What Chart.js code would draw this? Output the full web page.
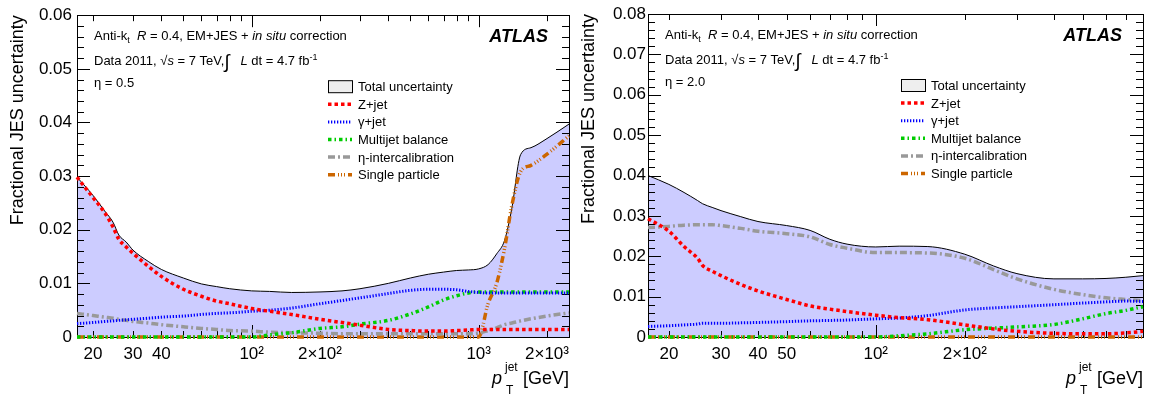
<!DOCTYPE html>
<html>
<head>
<meta charset="utf-8">
<script src="https://cdn.jsdelivr.net/npm/chart.js@4.4.0/dist/chart.umd.min.js"></script>
<style>
  body { margin: 0; background: #fff; }
  .panels { display: flex; width: 1162px; height: 396px; }
  canvas { display: block; }
</style>
</head>
<body>
<div class="panels">
  <canvas id="jes-eta05" width="580" height="396"></canvas>
  <canvas id="jes-eta20" width="582" height="396"></canvas>
</div>
<script>
/* ATLAS 2011 in situ JES uncertainty breakdown, two eta bins.
   Values. */

const FONT = '"Liberation Sans", Arial, Helvetica, sans-serif';

const legendNames = ["Total uncertainty", "Z+jet", "\u03b3+jet", "Multijet balance", "\u03b7-intercalibration", "Single particle"];

// ---- eta = 0.5 ----
const ptLeft = [17, 20, 22.5, 24.5, 26, 28, 30, 35, 40, 50, 60, 70, 80, 100, 120, 150, 200, 250, 300, 400, 500, 600, 700, 800, 900, 1000, 1100, 1200, 1300, 1400, 1530, 1700, 2000, 2500];
const totalLeft = [0.0298, 0.0264, 0.0235, 0.0214, 0.0190, 0.0177, 0.0162, 0.0141, 0.0126, 0.0110, 0.0099, 0.0094, 0.0090, 0.0086, 0.0085, 0.0083, 0.0084, 0.0086, 0.0090, 0.0100, 0.0110, 0.0117, 0.0121, 0.0124, 0.0125, 0.0127, 0.0135, 0.0155, 0.0180, 0.0240, 0.0340, 0.0353, 0.0370, 0.0397];
const zjetLeft = [0.0298, 0.0260, 0.0232, 0.0205, 0.0182, 0.0168, 0.0156, 0.0132, 0.0113, 0.0089, 0.0076, 0.0067, 0.0062, 0.0053, 0.0048, 0.0042, 0.0033, 0.0027, 0.0022, 0.0014, 0.0012, 0.0011, 0.0011, 0.0012, 0.0013, 0.0014, 0.0014, 0.0014, 0.0014, 0.0014, 0.0014, 0.0014, 0.0014, 0.0014];
const gjetLeft = [0.0025, 0.0027, 0.0029, 0.0030, 0.0031, 0.0032, 0.0033, 0.0035, 0.0037, 0.0039, 0.0042, 0.0044, 0.0045, 0.0048, 0.0050, 0.0054, 0.0062, 0.0068, 0.0073, 0.0081, 0.0087, 0.0089, 0.0089, 0.0088, 0.0085, 0.0083, 0.0082, 0.0082, 0.0082, 0.0082, 0.0082, 0.0082, 0.0082, 0.0082];
const multijetLeft = [0, 0, 0, 0, 0, 0, 0, 0, 0, 0, 0, 0, 0, 0, 0.0004, 0.0008, 0.0016, 0.0019, 0.0024, 0.0031, 0.0043, 0.0056, 0.0069, 0.0077, 0.0082, 0.0084, 0.0084, 0.0084, 0.0084, 0.0084, 0.0084, 0.0084, 0.0084, 0.0084];
const etaLeft = [0.0044, 0.0040, 0.0037, 0.0035, 0.0033, 0.0031, 0.0029, 0.0026, 0.0023, 0.0019, 0.0016, 0.0014, 0.0012, 0.0011, 0.0009, 0.0008, 0.0007, 0.0006, 0.0006, 0.0006, 0.0006, 0.0006, 0.0006, 0.0006, 0.0006, 0.0007, 0.0012, 0.0017, 0.0023, 0.0026, 0.0030, 0.0034, 0.0039, 0.0045];
const singleLeft = [0, 0, 0, 0, 0, 0, 0, 0, 0, 0, 0, 0, 0, 0, 0, 0, 0, 0, 0, 0, 0, 0, 0, 0, 0, 0, 0.0062, 0.0100, 0.0165, 0.0245, 0.0308, 0.0320, 0.0341, 0.0375];
const xTicksLeft = [20, 30, 40, 100, 200, 1000, 2000];
const xLabelsLeft = ["20", "30", "40", "10\u00b2", "2\u00d710\u00b2", "10\u00b3", "2\u00d710\u00b3"];

// ---- eta = 2.0 ----
const ptRight = [17, 20, 22.5, 25, 26, 28, 30, 35, 40, 50, 60, 70, 80, 100, 120, 150, 200, 250, 300, 400, 500, 600, 700, 800];
const totalRight = [0.0400, 0.0378, 0.0358, 0.0338, 0.0330, 0.0321, 0.0313, 0.0298, 0.0286, 0.0276, 0.0264, 0.0242, 0.0230, 0.0223, 0.0225, 0.0224, 0.0205, 0.0176, 0.0157, 0.0144, 0.0144, 0.0145, 0.0148, 0.0152];
const zjetRight = [0.0293, 0.0262, 0.0224, 0.0195, 0.0177, 0.0163, 0.0152, 0.0130, 0.0114, 0.0093, 0.0077, 0.0069, 0.0063, 0.0054, 0.0048, 0.0043, 0.0030, 0.0020, 0.0014, 0.0009, 0.0008, 0.0008, 0.0010, 0.0014];
const gjetRight = [0.0026, 0.0028, 0.0030, 0.0032, 0.0034, 0.0034, 0.0034, 0.0035, 0.0036, 0.0038, 0.0040, 0.0041, 0.0042, 0.0045, 0.0047, 0.0053, 0.0067, 0.0072, 0.0075, 0.0080, 0.0084, 0.0087, 0.0089, 0.0088];
const multijetRight = [0, 0, 0, 0, 0, 0, 0, 0, 0, 0, 0, 0, 0, 0, 0.0003, 0.0008, 0.0018, 0.0022, 0.0025, 0.0031, 0.0045, 0.0058, 0.0066, 0.0075];
const etaRight = [0.0271, 0.0274, 0.0277, 0.0278, 0.0278, 0.0278, 0.0276, 0.0269, 0.0262, 0.0256, 0.0248, 0.0229, 0.0220, 0.0209, 0.0209, 0.0208, 0.0195, 0.0167, 0.0144, 0.0118, 0.0105, 0.0097, 0.0093, 0.0090];
const singleRight = [0, 0, 0, 0, 0, 0, 0, 0, 0, 0, 0, 0, 0, 0, 0, 0, 0, 0, 0, 0, 0, 0, 0, 0];
const xTicksRight = [20, 30, 40, 50, 100, 200];
const xLabelsRight = ["20", "30", "40", "50", "10\u00b2", "2\u00d710\u00b2"];

function series(pt, vals) {
  return pt.map((p, i) => ({ x: p, y: vals[i] }));
}

function styledLine(label, pt, vals, color, width, dash) {
  return {
    label,
    data: series(pt, vals),
    borderColor: color,
    borderWidth: width,
    borderDash: dash,
    borderCapStyle: "butt",
    fill: false,
    clip: 4,
    cubicInterpolationMode: "monotone",
  };
}

function buildDatasets(pt, d) {
  return [
    styledLine(legendNames[1], pt, d.zjet, "#ff0000", 3.5, [3.5, 3]),
    styledLine(legendNames[2], pt, d.gjet, "#0000ff", 3, [1.3, 1.7]),
    styledLine(legendNames[3], pt, d.multijet, "#00cc00", 3.5, [3.5, 3, 1.5, 3]),
    styledLine(legendNames[4], pt, d.eta, "#999999", 3.5, [7, 3, 2, 3]),
    styledLine(legendNames[5], pt, d.single, "#cc6600", 3.5, [7, 3, 1, 2, 1, 2, 1, 3]),
    {
      label: legendNames[0],
      data: series(pt, d.total),
      borderColor: "#000",
      borderWidth: 1,
      backgroundColor: "#ccccff",
      fill: "origin",
      cubicInterpolationMode: "monotone",
    },
  ];
}

function drawRich(ctx, x, y, parts) {
  for (const p of parts) {
    const size = p.size || 13;
    ctx.font = `${p.style || ""} ${size}px ${FONT}`;
    ctx.fillText(p.t, x, y + (p.dy || 0));
    x += ctx.measureText(p.t).width;
  }
}

// ROOT-like decorations: inner ticks + frame go between the fill and the lines,
// labels and legend go on top of everything.
const atlasDecor = {
  id: "atlasDecor",
  beforeDatasetsDraw(chart, args, o) {
    const { ctx, chartArea: a } = chart;
    const xs = chart.scales.x, ys = chart.scales.y;
    ctx.save();
    ctx.strokeStyle = "#000";
    ctx.lineWidth = 1;
    ctx.setLineDash([]);
    ctx.beginPath();
    for (let n = Math.floor(Math.log10(xs.min)); n <= Math.ceil(Math.log10(xs.max)); n++) {
      for (let k = 1; k <= 9; k++) {
        const v = k * Math.pow(10, n);
        if (v < xs.min || v > xs.max) continue;
        const px = Math.round(xs.getPixelForValue(v)) + 0.5;
        const len = k === 1 ? 12 : 6;
        ctx.moveTo(px, a.bottom); ctx.lineTo(px, a.bottom - len);
        ctx.moveTo(px, a.top); ctx.lineTo(px, a.top + len);
      }
    }
    const nMinor = Math.round(ys.max / o.yMinor);
    for (let i = 0; i <= nMinor; i++) {
      const py = Math.round(ys.getPixelForValue(i * o.yMinor)) + 0.5;
      const len = i % 5 === 0 ? 13 : 7;
      ctx.moveTo(a.left, py); ctx.lineTo(a.left + len, py);
      ctx.moveTo(a.right, py); ctx.lineTo(a.right - len, py);
    }
    ctx.stroke();
    ctx.strokeRect(Math.round(a.left) + 0.5, Math.round(a.top) + 0.5,
                   Math.round(a.right - a.left), Math.round(a.bottom - a.top));
    ctx.restore();
  },
  afterDraw(chart, args, o) {
    const { ctx, chartArea: a } = chart;
    ctx.save();
    ctx.fillStyle = "#000";
    ctx.textBaseline = "alphabetic";
    ctx.textAlign = "left";

    // annotation block
    const x0 = a.left + 17;
    drawRich(ctx, x0, a.top + 25, [
      { t: "Anti-k" }, { t: "t", size: 9, dy: 3 }, { t: "  " },
      { t: "R", style: "italic" }, { t: " = 0.4, EM+JES + " },
      { t: "in situ", style: "italic" }, { t: " correction" },
    ]);
    drawRich(ctx, x0, a.top + 50, [
      { t: "Data 2011, " }, { t: "\u221a" }, { t: "s", style: "italic" },
      { t: " = 7 TeV," }, { t: "\u222b", size: 19, dy: 3 }, { t: "   " },
      { t: "L", style: "italic" }, { t: " dt = 4.7 fb" }, { t: "-1", size: 9, dy: -5 },
    ]);
    drawRich(ctx, x0, a.top + 72, [{ t: o.etaLabel }]);

    ctx.font = `italic bold 18px ${FONT}`;
    ctx.textAlign = "right";
    ctx.fillText("ATLAS", a.right - 21, a.top + 27);
    ctx.textAlign = "left";

    // legend
    const lx = a.left + o.legendDX;
    const ds = chart.data.datasets;
    const total = ds[ds.length - 1];
    for (let i = 0; i < legendNames.length; i++) {
      const by = a.top + 76 + i * 17.6;
      if (i === 0) {
        ctx.fillStyle = "#eeeeee";
        ctx.fillRect(lx + 0.5, by - 10.5, 24, 12);
        ctx.strokeStyle = "#000";
        ctx.lineWidth = 1;
        ctx.strokeRect(lx + 0.5, by - 10.5, 24, 12);
      } else {
        const d = ds[i - 1];
        ctx.strokeStyle = d.borderColor;
        ctx.lineWidth = d.borderWidth;
        ctx.setLineDash(d.borderDash);
        ctx.beginPath();
        ctx.moveTo(lx, by - 4.5);
        ctx.lineTo(lx + 24, by - 4.5);
        ctx.stroke();
        ctx.setLineDash([]);
      }
      ctx.fillStyle = "#000";
      ctx.font = `13px ${FONT}`;
      ctx.fillText(i === 0 ? total.label : ds[i - 1].label, lx + 30, by);
    }

    // y title
    ctx.save();
    ctx.translate(o.titleX, a.top);
    ctx.rotate(-Math.PI / 2);
    ctx.textAlign = "right";
    ctx.font = `18px ${FONT}`;
    ctx.fillText("Fractional JES uncertainty", 0, 0);
    ctx.restore();

    // x title
    const r = a.right;
    ctx.font = `italic 18px ${FONT}`;
    ctx.fillText("p", r - 77, 384);
    ctx.font = `12px ${FONT}`;
    ctx.fillText("jet", r - 64, 371);
    ctx.fillText("T", r - 63, 394);
    ctx.font = `18px ${FONT}`;
    ctx.textAlign = "right";
    ctx.fillText("[GeV]", r, 384);

    ctx.restore();
  },
};

function makePanel(canvasId, cfg) {
  return new Chart(document.getElementById(canvasId), {
    type: "line",
    data: { datasets: buildDatasets(cfg.pt, cfg.data) },
    options: {
      responsive: false,
      animation: false,
      events: [],
      layout: { padding: { left: 0, top: 14, right: cfg.padRight, bottom: 0 } },
      elements: { point: { radius: 0 } },
      plugins: {
        legend: { display: false },
        tooltip: { enabled: false },
        filler: { drawTime: "beforeDatasetsDraw" },
        atlasDecor: cfg.decor,
      },
      scales: {
        x: {
          type: "logarithmic",
          min: cfg.xMin,
          max: cfg.xMax,
          grid: { display: false, drawTicks: false },
          border: { display: false },
          afterBuildTicks: (s) => { s.ticks = cfg.xTicks.map((v) => ({ value: v })); },
          afterFit: (s) => { s.height = 59; },
          ticks: {
            autoSkip: false,
            maxRotation: 0,
            padding: 7,
            color: "#000",
            font: { family: FONT, size: 17 },
            callback: (v) => cfg.xLabels[cfg.xTicks.indexOf(v)],
          },
        },
        y: {
          min: 0,
          max: cfg.yMax,
          grid: { display: false, drawTicks: false },
          border: { display: false },
          afterFit: (s) => { s.width = cfg.yWidth; },
          ticks: {
            stepSize: 0.01,
            padding: cfg.yPad,
            color: "#000",
            font: { family: FONT, size: 17 },
            callback: (v) => (Math.abs(v) < 1e-9 ? "0" : v.toFixed(2)),
          },
        },
      },
    },
    plugins: [atlasDecor],
  });
}

makePanel("jes-eta05", {
  pt: ptLeft,
  data: { total: totalLeft, zjet: zjetLeft, gjet: gjetLeft, multijet: multijetLeft, eta: etaLeft, single: singleLeft },
  xMin: 17, xMax: 2500, xTicks: xTicksLeft, xLabels: xLabelsLeft,
  yMax: 0.06, yWidth: 77, yPad: 5, padRight: 11,
  decor: { yMinor: 0.002, legendDX: 251, titleX: 23, etaLabel: "\u03b7 = 0.5" },
});

makePanel("jes-eta20", {
  pt: ptRight,
  data: { total: totalRight, zjet: zjetRight, gjet: gjetRight, multijet: multijetRight, eta: etaRight, single: singleRight },
  xMin: 17, xMax: 800, xTicks: xTicksRight, xLabels: xLabelsRight,
  yMax: 0.08, yWidth: 68, yPad: 2, padRight: 19,
  decor: { yMinor: 0.002, legendDX: 253, titleX: 14, etaLabel: "\u03b7 = 2.0" },
});
</script>
</body>
</html>
